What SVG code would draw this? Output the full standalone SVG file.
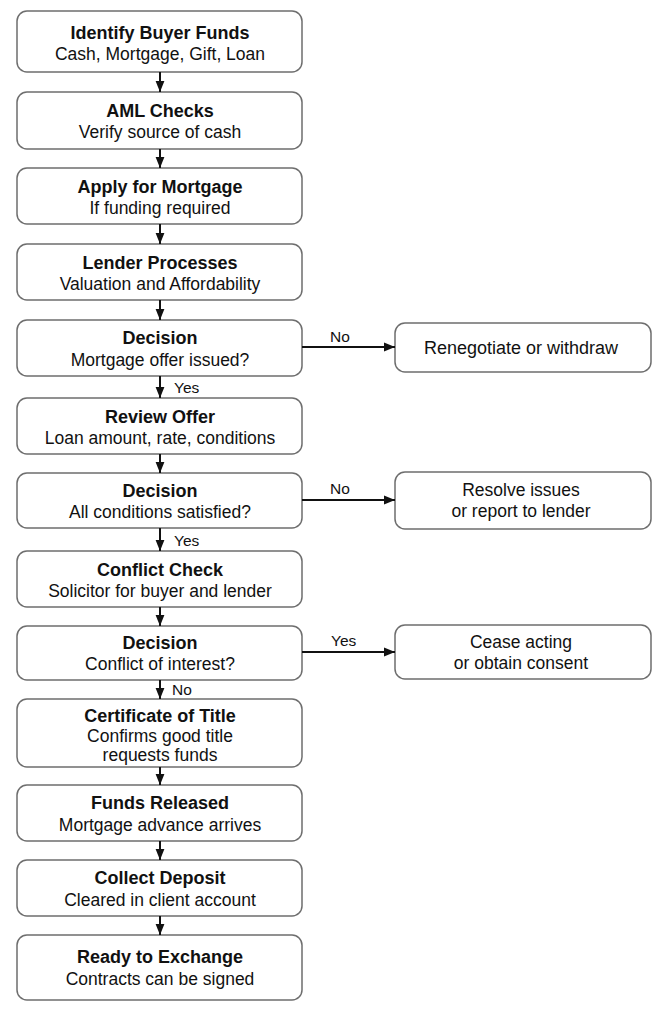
<svg xmlns="http://www.w3.org/2000/svg" width="668" height="1017" viewBox="0 0 668 1017">
<style>
.box{fill:#fff;stroke:#6e6e6e;stroke-width:1.5}
.t{font-family:"Liberation Sans",Arial,sans-serif;font-weight:bold;font-size:18px;fill:#111;text-anchor:middle}
.s{font-family:"Liberation Sans",Arial,sans-serif;font-size:17.5px;fill:#111;text-anchor:middle}
.r{font-family:"Liberation Sans",Arial,sans-serif;font-size:18px;fill:#111;text-anchor:middle}
.l{font-family:"Liberation Sans",Arial,sans-serif;font-size:15.5px;fill:#111}
.c{stroke:#111;stroke-width:2;fill:none;marker-end:url(#ah)}
</style>
<defs>
<marker id="ah" viewBox="0 0 10 10" refX="10" refY="5" markerWidth="11" markerHeight="11" markerUnits="userSpaceOnUse" orient="auto">
<path d="M0,1 L10,5 L0,9 Z" fill="#111"/>
</marker>
</defs>
<rect width="668" height="1017" fill="#fff"/>
<g id="n1"><rect class="box" x="17" y="11" width="285" height="61" rx="10"/><text class="t" x="160" y="39">Identify Buyer Funds</text><text class="s" x="160" y="60">Cash, Mortgage, Gift, Loan</text></g>
<g id="n2"><rect class="box" x="17" y="92" width="285" height="57" rx="10"/><text class="t" x="160" y="117">AML Checks</text><text class="s" x="160" y="138">Verify source of cash</text></g>
<g id="n3"><rect class="box" x="17" y="168" width="285" height="56" rx="10"/><text class="t" x="160" y="193">Apply for Mortgage</text><text class="s" x="160" y="214">If funding required</text></g>
<g id="n4"><rect class="box" x="17" y="244" width="285" height="56" rx="10"/><text class="t" x="160" y="269">Lender Processes</text><text class="s" x="160" y="290">Valuation and Affordability</text></g>
<g id="n5"><rect class="box" x="17" y="320" width="285" height="56" rx="10"/><text class="t" x="160" y="344">Decision</text><text class="s" x="160" y="366">Mortgage offer issued?</text></g>
<g id="n6"><rect class="box" x="395" y="323" width="256" height="49" rx="10"/><text class="r" x="521" y="354">Renegotiate or withdraw</text></g>
<g id="n7"><rect class="box" x="17" y="398" width="285" height="56" rx="10"/><text class="t" x="160" y="423">Review Offer</text><text class="s" x="160" y="444">Loan amount, rate, conditions</text></g>
<g id="n8"><rect class="box" x="17" y="473" width="285" height="55" rx="10"/><text class="t" x="160" y="497">Decision</text><text class="s" x="160" y="518">All conditions satisfied?</text></g>
<g id="n9"><rect class="box" x="395" y="472" width="256" height="57" rx="10"/><text class="s" x="521" y="496">Resolve issues</text><text class="s" x="521" y="517">or report to lender</text></g>
<g id="n10"><rect class="box" x="17" y="551" width="285" height="56" rx="10"/><text class="t" x="160" y="576">Conflict Check</text><text class="s" x="160" y="597">Solicitor for buyer and lender</text></g>
<g id="n11"><rect class="box" x="17" y="626" width="285" height="54" rx="10"/><text class="t" x="160" y="649">Decision</text><text class="s" x="160" y="670">Conflict of interest?</text></g>
<g id="n12"><rect class="box" x="395" y="625" width="256" height="54" rx="10"/><text class="s" x="521" y="648">Cease acting</text><text class="s" x="521" y="669">or obtain consent</text></g>
<g id="n13"><rect class="box" x="17" y="699" width="285" height="68" rx="10"/><text class="t" x="160" y="722">Certificate of Title</text><text class="s" x="160" y="742">Confirms good title</text><text class="s" x="160" y="761">requests funds</text></g>
<g id="n14"><rect class="box" x="17" y="785" width="285" height="56" rx="10"/><text class="t" x="160" y="809">Funds Released</text><text class="s" x="160" y="831">Mortgage advance arrives</text></g>
<g id="n15"><rect class="box" x="17" y="860" width="285" height="56" rx="10"/><text class="t" x="160" y="884">Collect Deposit</text><text class="s" x="160" y="906">Cleared in client account</text></g>
<g id="n16"><rect class="box" x="17" y="935" width="285" height="65" rx="10"/><text class="t" x="160" y="963">Ready to Exchange</text><text class="s" x="160" y="985">Contracts can be signed</text></g>
<g id="connectors">
<line class="c" x1="160" y1="72" x2="160" y2="92"/>
<line class="c" x1="160" y1="149" x2="160" y2="168"/>
<line class="c" x1="160" y1="224" x2="160" y2="244"/>
<line class="c" x1="160" y1="300" x2="160" y2="320"/>
<line class="c" x1="160" y1="376" x2="160" y2="398"/>
<line class="c" x1="160" y1="454" x2="160" y2="473"/>
<line class="c" x1="160" y1="528" x2="160" y2="551"/>
<line class="c" x1="160" y1="607" x2="160" y2="626"/>
<line class="c" x1="160" y1="680" x2="160" y2="699"/>
<line class="c" x1="160" y1="767" x2="160" y2="785"/>
<line class="c" x1="160" y1="841" x2="160" y2="860"/>
<line class="c" x1="160" y1="916" x2="160" y2="935"/>
<line class="c" x1="302" y1="347" x2="395" y2="347"/>
<line class="c" x1="302" y1="500" x2="395" y2="500"/>
<line class="c" x1="302" y1="652" x2="395" y2="652"/>
<text class="l" x="174" y="393">Yes</text>
<text class="l" x="174" y="546">Yes</text>
<text class="l" x="172" y="695">No</text>
<text class="l" x="330" y="342">No</text>
<text class="l" x="330" y="494">No</text>
<text class="l" x="331" y="646">Yes</text>
</g>
</svg>
